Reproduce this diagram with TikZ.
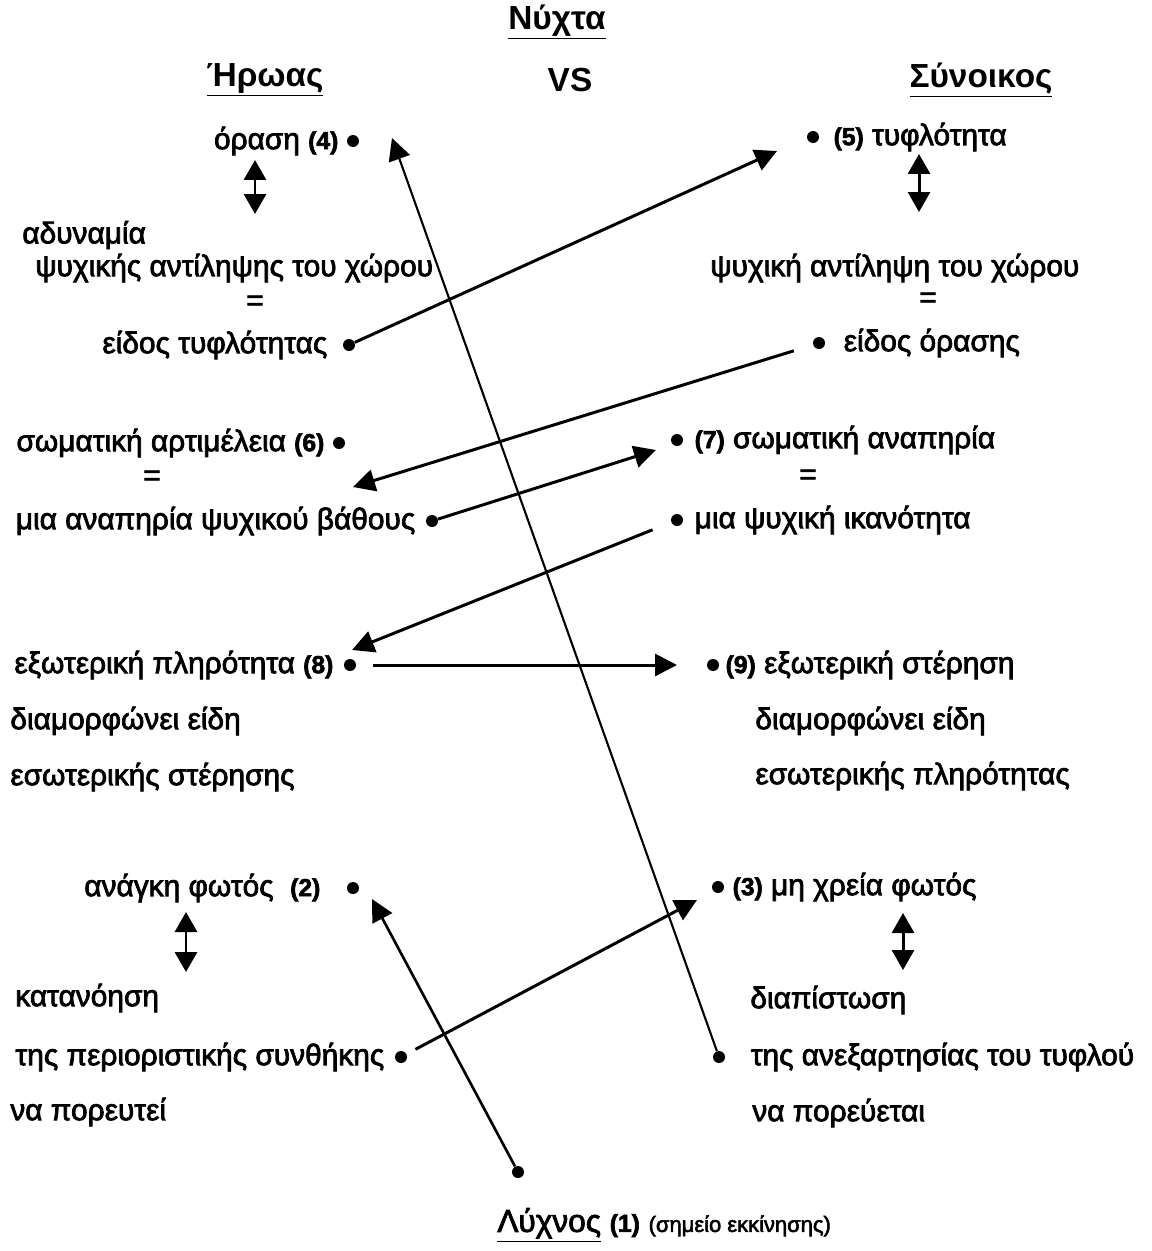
\documentclass[tikz,border=0pt]{standalone}
\usepackage{fontspec}
\setmainfont{Liberation Sans}
\newfontfamily\heavy{Liberation Sans}[FakeBold=2.5]
\usetikzlibrary{positioning,arrows.meta}
\tikzset{
  txt/.style={font=\heavy\fontsize{17}{20}\selectfont, inner sep=0pt},
  ttl/.style={font=\fontsize{19}{22}\selectfont\bfseries, inner sep=0pt},
  pt/.style={circle, fill, inner sep=0pt, minimum size=0.24cm},
  arr/.style={-{Triangle[length=0.44cm,width=0.44cm]}, line width=1.7pt},
  dbl/.style={{Triangle[length=0.4cm,width=0.44cm]}-{Triangle[length=0.4cm,width=0.44cm]}, line width=1.7pt},
}
\newcommand{\nr}[1]{{\fontsize{14}{16}\selectfont\bfseries #1}}
\begin{document}
\begin{tikzpicture}[x=0.02cm,y=-0.02cm]
\useasboundingbox (0,0) rectangle (1152,1251);
\node[ttl] (N) at (557,22) {\underline{Νύχτα}};
\node[ttl] (H) at (265,80) {\underline{Ήρωας}};
\node[ttl] (VS) at (570,80) {VS};
\node[ttl] (S) at (981,80) {\underline{Σύνοικος}};
\node[pt] (D4) at (353,141) {};
\node[txt,left=0.16cm of D4] (L4) {όραση \nr{(4)}};
\coordinate (a4) at (255,160);
\coordinate (b4) at (255,214);
\draw[dbl] (a4) -- (b4);
\node[txt,anchor=west] (La) at (22,235) {αδυναμία};
\node[txt,anchor=west] (Lb) at (35,268) {ψυχικής αντίληψης του χώρου};
\node[txt] (Le1) at (255,303) {=};
\node[pt] (Dtyf) at (349,345) {};
\node[txt,left=0.3cm of Dtyf] (Ltyf) {είδος τυφλότητας};
\node[pt] (D6) at (339,443) {};
\node[txt,left=0.16cm of D6] (L6) {σωματική αρτιμέλεια \nr{(6)}};
\node[txt] (Le2) at (152,478) {=};
\node[pt] (Dbath) at (432,521) {};
\node[txt,left=0.2cm of Dbath] (Lbath) {μια αναπηρία ψυχικού βάθους};
\node[pt] (D8) at (350,665) {};
\node[txt,left=0.2cm of D8] (L8) {εξωτερική πληρότητα \nr{(8)}};
\node[txt,anchor=west] (Lc) at (10,721) {διαμορφώνει είδη};
\node[txt,anchor=west] (Ld) at (10,777) {εσωτερικής στέρησης};
\node[pt] (D2) at (353,888) {};
\node[txt,left=0.52cm of D2] (L2) {ανάγκη φωτός~~\nr{(2)}};
\coordinate (a2) at (186,912);
\coordinate (b2) at (186,972);
\draw[dbl] (a2) -- (b2);
\node[txt,anchor=west] (Le) at (15,998) {κατανόηση};
\node[pt] (Dsyn) at (401,1057) {};
\node[txt,left=0.2cm of Dsyn] (Lsyn) {της περιοριστικής συνθήκης};
\node[txt,anchor=west] (Lf) at (10,1112) {να πορευτεί};
\node[pt] (D1) at (518,1172) {};
\node[txt,anchor=west] (L1) at (497,1225) {\fontsize{18}{20}\selectfont\underline{Λύχνος} \nr{(1)} {\fontsize{12.5}{14}\selectfont(σημείο εκκίνησης)}};
\node[pt] (D5) at (813,137) {};
\node[txt,right=0.28cm of D5] (R5) {\nr{(5)} τυφλότητα};
\coordinate (a5) at (919,154);
\coordinate (b5) at (919,212);
\draw[dbl] (a5) -- (b5);
\node[txt,anchor=west] (Ra) at (710,268) {ψυχική αντίληψη του χώρου};
\node[txt] (Re1) at (928,300) {=};
\node[pt] (Dor) at (819,343) {};
\node[txt,right=0.36cm of Dor] (Ror) {είδος όρασης};
\node[pt] (D7) at (677,440) {};
\node[txt,right=0.22cm of D7] (R7) {\nr{(7)} σωματική αναπηρία};
\node[txt] (Re2) at (808,477) {=};
\node[pt] (Dik) at (677,520) {};
\node[txt,right=0.22cm of Dik] (Rik) {μια ψυχική ικανότητα};
\node[pt] (D9) at (713,665) {};
\node[txt,right=0.12cm of D9] (R9) {\nr{(9)} εξωτερική στέρηση};
\node[txt,anchor=west] (Rb) at (755,721) {διαμορφώνει είδη};
\node[txt,anchor=west] (Rc) at (755,776) {εσωτερικής πληρότητας};
\node[pt] (D3) at (718,887) {};
\node[txt,right=0.16cm of D3] (R3) {\nr{(3)} μη χρεία φωτός};
\coordinate (a3) at (903,913);
\coordinate (b3) at (903,970);
\draw[dbl] (a3) -- (b3);
\node[txt,anchor=west] (Rd) at (750,1000) {διαπίστωση};
\node[pt] (Dan) at (719,1057) {};
\node[txt,right=0.5cm of Dan] (Ran) {της ανεξαρτησίας του τυφλού};
\node[txt,anchor=west] (Re) at (752,1113) {να πορεύεται};
\coordinate (T5) at (777,151);
\coordinate (T6) at (353,487);
\coordinate (T7) at (656,450);
\coordinate (T8) at (352,650);
\coordinate (T9) at (677,665);
\coordinate (T4) at (392,138);
\coordinate (T2) at (372,899);
\coordinate (T3) at (697,900);
\draw[arr] (Dtyf) -- (T5);
\draw[arr,shorten <=0.4cm] (Dor) -- (T6);
\draw[arr] (Dbath) -- (T7);
\draw[arr,shorten <=0.4cm] (Dik) -- (T8);
\draw[arr,shorten <=0.34cm] (D8) -- (T9);
\draw[arr,line width=1.2pt] (Dan) -- (T4);
\draw[arr,line width=1.5pt] (D1) -- (T2);
\draw[arr,shorten <=0.2cm] (Dsyn) -- (T3);
\end{tikzpicture}
\end{document}
